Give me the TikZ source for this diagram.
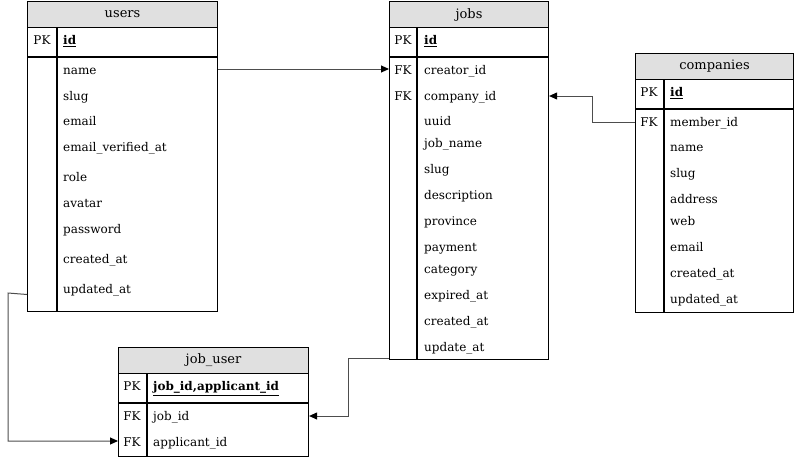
\documentclass[tikz,border=0pt]{standalone}
\usepackage{fontspec}
\setmainfont{DejaVu Serif}
\usetikzlibrary{arrows.meta,calc}
\definecolor{hdrgray}{HTML}{E0E0E0}
\definecolor{conngray}{HTML}{4D4D4D}
\begin{document}
\begin{tikzpicture}[x=1pt,y=-1pt,
  tbl/.style={draw=black, line width=1.1pt, fill=white, inner sep=0pt, anchor=north west},
  hdr/.style={draw=black, line width=1.1pt, fill=hdrgray, inner sep=0pt, anchor=north west,
              font=\fontsize{13}{15}\selectfont},
  sep/.style={draw=black, line width=1.1pt},
  fld/.style={anchor=west, inner sep=0pt, text height=9pt, text depth=3pt, yshift=-1.5pt,
              font=\fontsize{12}{14}\selectfont},
  kfld/.style={fld, anchor=center},
  conn/.style={draw=conngray, line width=1pt, -{Triangle[length=8pt,width=7pt,color=black,fill=black]}}]
\useasboundingbox (0,0) rectangle (795,458);

% ---------------- users ----------------
\node[tbl, minimum width=190pt, minimum height=310pt] (users) at (27,1) {};
\node[hdr, minimum width=190pt, minimum height=26pt] (usersh) at (27,1) {users};
\draw[sep] (27,57) -- (217,57);
\draw[sep] (57,27) -- (57,311);
\node[kfld] (upk) at (42,40) {PK};
\node[fld] (uid) at (63,40) {\underline{\textbf{id}}};
\node[fld] (uname) at (63,70) {name};
\node[fld] (uslug) at (63,96) {slug};
\node[fld] (uemail) at (63,121) {email};
\node[fld] (uever) at (63,147) {email\_verified\_at};
\node[fld] (urole) at (63,177) {role};
\node[fld] (uavatar) at (63,203) {avatar};
\node[fld] (upass) at (63,229) {password};
\node[fld] (ucreated) at (63,259) {created\_at};
\node[fld] (uupd) at (63,289) {updated\_at};

% ---------------- jobs ----------------
\node[tbl, minimum width=159pt, minimum height=358pt] (jobs) at (389,1) {};
\node[hdr, minimum width=159pt, minimum height=26pt] (jobsh) at (389,1) {jobs};
\draw[sep] (389,57) -- (548,57);
\draw[sep] (417,27) -- (417,359);
\node[kfld] (jpk) at (403,40) {PK};
\node[fld] (jid) at (424,40) {\underline{\textbf{id}}};
\node[kfld] (jfk1) at (403,70) {FK};
\node[fld] (jcreator) at (424,70) {creator\_id};
\node[kfld] (jfk2) at (403,96) {FK};
\node[fld] (jcompany) at (424,96) {company\_id};
\node[fld] (juuid) at (424,121) {uuid};
\node[fld] (jname) at (424,143) {job\_name};
\node[fld] (jslug) at (424,169) {slug};
\node[fld] (jdesc) at (424,195) {description};
\node[fld] (jprov) at (424,221) {province};
\node[fld] (jpay) at (424,247) {payment};
\node[fld] (jcat) at (424,269) {category};
\node[fld] (jexp) at (424,295) {expired\_at};
\node[fld] (jcreated) at (424,321) {created\_at};
\node[fld] (jupd) at (424,347) {update\_at};

% ---------------- companies ----------------
\node[tbl, minimum width=158pt, minimum height=259pt] (comp) at (635,53) {};
\node[hdr, minimum width=158pt, minimum height=26pt] (comph) at (635,53) {companies};
\draw[sep] (635,109) -- (793,109);
\draw[sep] (664,79) -- (664,312);
\node[kfld] (cpk) at (649,92) {PK};
\node[fld] (cid) at (670,92) {\underline{\textbf{id}}};
\node[kfld] (cfk) at (649,122) {FK};
\node[fld] (cmember) at (670,122) {member\_id};
\node[fld] (cname) at (670,147) {name};
\node[fld] (cslug) at (670,173) {slug};
\node[fld] (caddr) at (670,199) {address};
\node[fld] (cweb) at (670,221) {web};
\node[fld] (cemail) at (670,247) {email};
\node[fld] (ccreated) at (670,273) {created\_at};
\node[fld] (cupd) at (670,299) {updated\_at};

% ---------------- job_user ----------------
\node[tbl, minimum width=190pt, minimum height=109pt] (ju) at (118,347) {};
\node[hdr, minimum width=190pt, minimum height=26pt] (juh) at (118,347) {job\_user};
\draw[sep] (118,403) -- (308,403);
\draw[sep] (147,373) -- (147,456);
\node[kfld] (jupk) at (132,386) {PK};
\node[fld] (jukey) at (153,386) {\underline{\textbf{job\_id,applicant\_id}}};
\node[kfld] (jufk1) at (132,416) {FK};
\node[fld] (jujob) at (153,416) {job\_id};
\node[kfld] (jufk2) at (132,442) {FK};
\node[fld] (juappl) at (153,442) {applicant\_id};

% ---------------- connectors ----------------
\draw[conn] ($(users.east |- uname)+(0,-2.5)$) -- ($(jobs.west |- jcreator)+(0,-2.5)$);
\draw[conn] ($(comp.west |- cmember)+(0,-1.5)$) -- ++(-43,0) |- ($(jobs.east |- jcompany)+(0,-1.5)$);
\draw[conn] ($(users.west |- uupd)+(0,4)$) -- (8,293) |- ($(ju.west |- juappl)+(0,-2.5)$);
\draw[conn] ($(jobs.south west)+(0,-2)$) -- ++(-41,0) |- ($(ju.east |- jujob)+(0,-1.5)$);
\end{tikzpicture}
\end{document}
